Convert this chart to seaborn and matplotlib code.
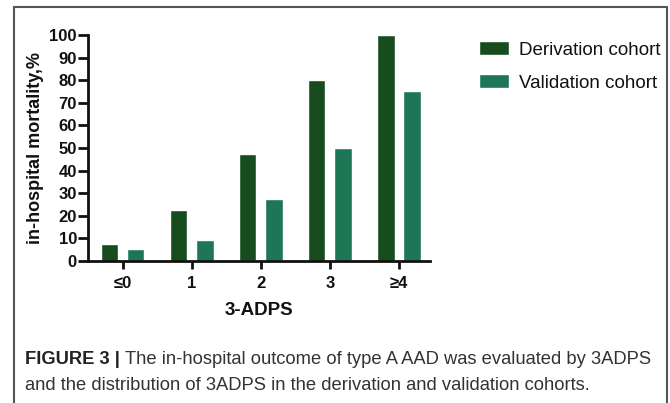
import matplotlib
matplotlib.use("Agg")
import matplotlib.pyplot as plt
import seaborn as sns
import pandas as pd
from matplotlib.lines import Line2D

categories = ["≤0", "1", "2", "3", "≥4"]
derivation = [7.7, 22.6, 47.2, 80, 100]
validation = [5.1, 9.1, 27.3, 50, 75]
series_names = ["Derivation cohort", "Validation cohort"]
y_ticks = [0, 10, 20, 30, 40, 50, 60, 70, 80, 90, 100]

df = pd.DataFrame({
    "score": categories * 2,
    "mortality": derivation + validation,
    "cohort": [series_names[0]] * len(categories) + [series_names[1]] * len(categories),
})

sns.set_theme(style="white")
plt.rcParams["font.family"] = ["Liberation Sans", "DejaVu Sans"]

W, H = 670, 403
fig = plt.figure(figsize=(W / 100, H / 100), dpi=100)
fig.patch.set_facecolor("white")

ax = fig.add_axes([88 / W, 1 - 261 / H, (430 - 88) / W, (261 - 35) / H])
sns.barplot(data=df, x="score", y="mortality", hue="cohort", order=categories,
            hue_order=series_names, palette=["#164c1e", "#1d7656"],
            width=0.76, gap=0.33, saturation=1, ax=ax, legend=True)

ax.set_xlim(-0.5, 4.45)
ax.set_ylim(0, 100)
ax.set_yticks(y_ticks)
for s in ["top", "right"]:
    ax.spines[s].set_visible(False)
for s in ["left", "bottom"]:
    ax.spines[s].set_linewidth(2)
    ax.spines[s].set_color("#111111")
ax.tick_params(axis="y", which="major", length=7, width=2, color="#111111",
               direction="out", left=True, pad=1)
ax.tick_params(axis="x", which="major", length=6, width=2, color="#111111",
               direction="out", bottom=True, pad=5)
for lab in ax.get_yticklabels() + ax.get_xticklabels():
    lab.set_fontweight("bold")
    lab.set_fontsize(12)
    lab.set_color("#111111")
ax.set_ylabel("in-hospital mortality,%", fontsize=13, fontweight="bold", color="#111111", labelpad=4)
ax.set_xlabel("3-ADPS", fontsize=13.5, fontweight="bold", color="#111111", labelpad=8)

leg = ax.legend(loc="upper left", bbox_to_anchor=(479 / W, 1 - 41 / H),
                bbox_transform=fig.transFigure, frameon=False, fontsize=13.5,
                handlelength=1.6, handleheight=0.8, handletextpad=0.55,
                labelspacing=0.82, borderpad=0, borderaxespad=0)
for t in leg.get_texts():
    t.set_color("#111111")

# outer frame
frame_kw = dict(transform=fig.transFigure, color="#555555", lw=1.5)
fig.add_artist(Line2D([14 / W, 14 / W], [0, 1 - 7 / H], **frame_kw))
fig.add_artist(Line2D([14 / W, 667 / W], [1 - 7 / H, 1 - 7 / H], **frame_kw))
fig.add_artist(Line2D([667 / W, 667 / W], [0, 1 - 7 / H], **frame_kw))

# caption
cap_font = ["Liberation Sans", "DejaVu Sans"]
fs = 13.2
t1 = fig.text(25 / W, 1 - 360 / H, "FIGURE 3 |", fontsize=fs, fontweight="bold",
              color="#222222", va="center", ha="left", family=cap_font)
fig.canvas.draw()
bb = t1.get_window_extent()
fig.text((bb.x1 + 5) / W, 1 - 360 / H,
         "The in-hospital outcome of type A AAD was evaluated by 3ADPS",
         fontsize=fs, color="#333333", va="center", ha="left", family=cap_font)
fig.text(25 / W, 1 - 386 / H,
         "and the distribution of 3ADPS in the derivation and validation cohorts.",
         fontsize=fs, color="#333333", va="center", ha="left", family=cap_font)

fig.savefig("out.png", dpi=100, facecolor="white")
